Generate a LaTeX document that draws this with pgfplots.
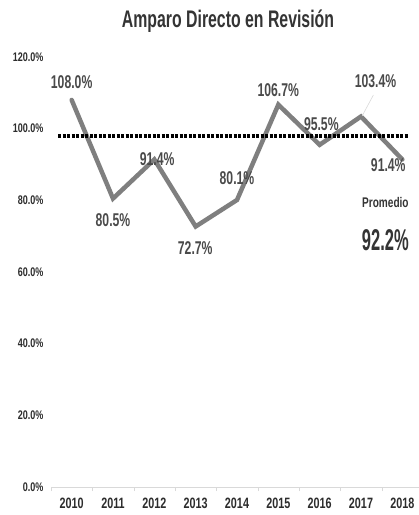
\documentclass[border=0pt]{standalone}
\usepackage{fontspec}
\setmainfont{Liberation Sans}[FakeStretch=0.72]
\newfontfamily\labfont{Liberation Sans}[FakeStretch=0.66]
\newfontfamily\titlefont{Liberation Sans}[FakeStretch=0.66]
\newfontfamily\bigfont{Liberation Sans}[FakeStretch=0.55]
\usepackage{pgfplots}
\pgfplotsset{compat=1.18}
\definecolor{linegray}{HTML}{7F7F7F}
\definecolor{txt}{HTML}{4A4A4A}
\definecolor{axgray}{HTML}{D9D9D9}
\begin{document}
\begin{tikzpicture}[x=1pt,y=1pt]
\path[use as bounding box] (0,0) rectangle (419,515);
\node[font=\titlefont\bfseries\fontsize{24}{26}\selectfont, text=txt!70!black] at (228,494) {Amparo Directo en Revisión};
\begin{axis}[
  at={(51pt,28pt)}, anchor=south west,
  width=372pt, height=430pt, scale only axis,
  xmin=-0.5, xmax=8.5, ymin=0, ymax=120,
  axis x line=bottom, axis y line=left,
  x axis line style={draw=axgray, -},
  y axis line style={draw=none},
  xtick={0,...,8},
  xticklabels={2010,2011,2012,2013,2014,2015,2016,2017,2018},
  ytick={0,20,...,120},
  yticklabel={\pgfmathprintnumber[fixed,fixed zerofill,precision=1]{\tick}\%},
  /pgf/number format/assume math mode=true,
  major tick length=0pt,
  minor xtick={-0.5,0.5,...,8.5},
  minor tick length=4pt,
  tick align=outside,
  minor tick style={draw=axgray},
  yticklabel style={font=\bfseries\fontsize{12.5}{13}\selectfont, text=txt!60!black, xshift=-4pt},
  xticklabel style={font=\bfseries\fontsize{15}{16}\selectfont, text=txt!60!black, yshift=-7pt},
  clip=false,
]
\addplot[linegray, line width=4.5pt, line cap=round] coordinates {
  (0,108.0) (1,80.5) (2,91.4) (3,72.7) (4,80.1) (5,106.7) (6,95.5) (7,103.4) (8,91.4)};
\addplot[black, line width=3.5pt, dash pattern=on 3pt off 1.5pt] coordinates {(-0.33,98) (8.14,98)};
\draw[axgray, line width=0.6pt] (axis cs:7.3,109.4) -- (axis cs:7.03,103.6);
\begin{scope}[every node/.style={font=\labfont\bfseries\fontsize{18.5}{19}\selectfont, text=txt}]
\node at (axis cs:0,113.0) {108.0\%};
\node at (axis cs:1,74.5) {80.5\%};
\node at (axis cs:2.07,91.5) {91.4\%};
\node at (axis cs:2.99,66.7) {72.7\%};
\node at (axis cs:4.0,86.2) {80.1\%};
\node at (axis cs:5.0,110.8) {106.7\%};
\node at (axis cs:6.04,101.3) {95.5\%};
\node at (axis cs:7.35,113.3) {103.4\%};
\node at (axis cs:7.66,89.9) {91.4\%};
\end{scope}
\node[font=\bfseries\fontsize{14}{15}\selectfont, text=txt!70!black] at (axis cs:7.59,79.3) {Promedio};
\node[font=\bigfont\bfseries\fontsize{30}{32}\selectfont, text=txt!70!black] at (axis cs:7.59,68.9) {92.2\%};
\end{axis}
\end{tikzpicture}
\end{document}
